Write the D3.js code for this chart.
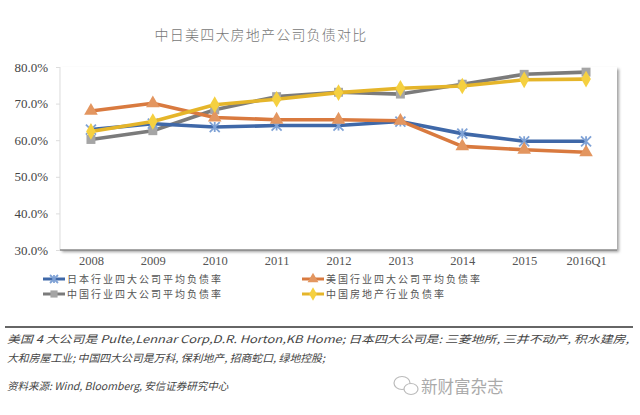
<!DOCTYPE html>
<html>
<head>
<meta charset="utf-8">
<script src="https://cdn.jsdelivr.net/npm/d3@7"></script>
<style>
  body { margin: 0; background: #fff; }
  text { font-family: "Liberation Serif", "DejaVu Serif", serif; }
  .cjk { font-family: "Noto Sans CJK SC", sans-serif; }
</style>
</head>
<body>
<div id="root"></div>
<script>
const w = 640;
const h = 415;

const years = ["2008", "2009", "2010", "2011", "2012", "2013", "2014", "2015", "2016Q1"];
const yTicks = [30, 40, 50, 60, 70, 80];

const seriesNames = [
  "日本行业四大公司平均负债率",
  "美国行业四大公司平均负债率",
  "中国行业四大公司平均负债率",
  "中国房地产行业负债率",
];
const japan = [62.9, 64.5, 63.6, 64.0, 64.0, 65.1, 61.8, 59.7, 59.7];
const usa = [68.0, 70.1, 66.2, 65.6, 65.6, 65.3, 58.3, 57.4, 56.7];
const chinaTop4 = [60.2, 62.6, 68.3, 71.9, 73.1, 72.6, 75.3, 78.0, 78.6];
const chinaIndustry = [62.4, 65.1, 69.7, 71.2, 73.0, 74.2, 74.8, 76.5, 76.7];

const noteLines = [
  "美国 4 大公司是 Pulte,Lennar Corp,D.R. Horton,KB Home; 日本四大公司是: 三菱地所, 三井不动产, 积水建房,",
  "大和房屋工业; 中国四大公司是万科, 保利地产, 招商蛇口, 绿地控股;",
  "资料来源: Wind, Bloomberg, 安信证券研究中心",
];

const plot = { left: 60, right: 617, top: 67, bottom: 250 };

const series = [
  { name: seriesNames[2], values: chinaTop4, color: "#7b7b7b", marker: "#a5a5a5", shape: "square" },
  { name: seriesNames[0], values: japan, color: "#3f68a8", marker: "#7fa2d6", shape: "star" },
  { name: seriesNames[1], values: usa, color: "#d97a3f", marker: "#e39660", shape: "triangle" },
  { name: seriesNames[3], values: chinaIndustry, color: "#e5b52a", marker: "#f5d040", shape: "diamond" },
];

const svg = d3.select("#root").append("svg").attr("width", w).attr("height", h);

svg.append("text")
  .attr("class", "cjk")
  .attr("x", 261)
  .attr("y", 40)
  .attr("text-anchor", "middle")
  .attr("font-size", 14)
  .attr("font-weight", 300)
  .attr("letter-spacing", 1.2)
  .attr("fill", "#777")
  .text("中日美四大房地产公司负债对比");

const xScale = d3.scalePoint().domain(years).range([plot.left, plot.right]).padding(0.5);
const yScale = d3.scaleLinear().domain([30, 80]).range([plot.bottom, plot.top]);

// plot box with shadow
const defs = svg.append("defs");
const filter = defs.append("filter").attr("id", "shadow").attr("x", "-5%").attr("y", "-5%").attr("width", "115%").attr("height", "120%");
filter.append("feDropShadow").attr("dx", 2).attr("dy", 2).attr("stdDeviation", 1.5).attr("flood-color", "#777").attr("flood-opacity", 0.7);

svg.append("rect")
  .attr("x", plot.left)
  .attr("y", plot.top)
  .attr("width", plot.right - plot.left)
  .attr("height", plot.bottom - plot.top)
  .attr("fill", "#fff")
  .attr("filter", "url(#shadow)");

svg.append("line")
  .attr("x1", plot.left).attr("x2", plot.left)
  .attr("y1", plot.top).attr("y2", plot.bottom)
  .attr("stroke", "#ddd");

svg.append("line")
  .attr("x1", plot.left).attr("x2", plot.right)
  .attr("y1", plot.bottom).attr("y2", plot.bottom)
  .attr("stroke", "#8a8a8a")
  .attr("stroke-width", 1.5);

// y axis
const yAxis = svg.append("g")
  .attr("transform", `translate(${plot.left},0)`)
  .call(d3.axisLeft(yScale).tickValues(yTicks).tickSize(4).tickPadding(8).tickFormat((d) => d.toFixed(1) + "%"));
yAxis.select(".domain").remove();
yAxis.selectAll("line").attr("stroke", "#ddd");
yAxis.selectAll("text")
  .attr("font-family", "Liberation Serif, serif")
  .attr("font-size", 13)
  .attr("fill", "#444");

// x axis
const xAxis = svg.append("g")
  .attr("transform", `translate(0,${plot.bottom})`)
  .call(d3.axisBottom(xScale).tickSize(0).tickPadding(6));
xAxis.select(".domain").remove();
xAxis.selectAll("text")
  .attr("font-family", "Liberation Serif, serif")
  .attr("font-size", 12.5)
  .attr("fill", "#555");

const line = d3.line()
  .x((d, i) => xScale(years[i]))
  .y((d) => yScale(d));

function drawMarker(g, shape, color, size) {
  if (shape === "star") {
    const s = size;
    g.append("path")
      .attr("d", `M${-s},${-s}L${s},${s}M${-s},${s}L${s},${-s}M0,${-s}L0,${s}`)
      .attr("stroke", color)
      .attr("stroke-width", 1.8)
      .attr("fill", "none");
  } else {
    const typ = { square: d3.symbolSquare, triangle: d3.symbolTriangle, diamond: d3.symbolDiamond }[shape];
    g.append("path")
      .attr("d", d3.symbol().type(typ).size(size * size * 3.2)())
      .attr("fill", color);
  }
}

series.forEach((s) => {
  const g = svg.append("g");
  g.append("path")
    .datum(s.values)
    .attr("d", line)
    .attr("fill", "none")
    .attr("stroke", s.color)
    .attr("stroke-width", 3.6)
    .attr("stroke-linejoin", "round");
  s.values.forEach((v, i) => {
    const m = g.append("g").attr("transform", `translate(${xScale(years[i])},${yScale(v)})`);
    drawMarker(m, s.shape, s.marker, 5);
  });
});

// legend
const legendItems = [
  { s: series[1], x: 43, y: 279 },
  { s: series[2], x: 302, y: 279 },
  { s: series[0], x: 43, y: 294 },
  { s: series[3], x: 302, y: 294 },
];
legendItems.forEach((it) => {
  const g = svg.append("g").attr("transform", `translate(${it.x},${it.y})`);
  g.append("line")
    .attr("x1", 0).attr("x2", 22)
    .attr("y1", 0).attr("y2", 0)
    .attr("stroke", it.s.color)
    .attr("stroke-width", 3);
  const m = g.append("g").attr("transform", "translate(11,0)");
  drawMarker(m, it.s.shape, it.s.marker, 4);
  g.append("text")
    .attr("class", "cjk")
    .attr("x", 24)
    .attr("y", 3.5)
    .attr("font-size", 10)
    .attr("letter-spacing", 2)
    .attr("fill", "#555")
    .text(it.s.name);
});

// separator
svg.append("line")
  .attr("x1", 5).attr("x2", 633)
  .attr("y1", 327).attr("y2", 327)
  .attr("stroke", "#333")
  .attr("stroke-width", 1.5);

const noteY = [343, 362, 390];
noteLines.forEach((t, i) => {
  const txt = svg.append("text")
    .attr("class", "cjk")
    .attr("x", 7)
    .attr("y", noteY[i])
    .attr("font-size", 10.5)
    .attr("font-style", "italic")
    .attr("fill", "#444")
    .text(t);
  if (i === 0) txt.attr("textLength", 622).attr("lengthAdjust", "spacingAndGlyphs");
  if (i === 1) txt.attr("textLength", 318).attr("lengthAdjust", "spacingAndGlyphs");
});

// watermark
const wm = svg.append("g").attr("transform", "translate(405,386)").attr("fill", "none").attr("stroke", "#bbb").attr("stroke-width", 1.2);
wm.append("ellipse").attr("cx", -3).attr("cy", -3).attr("rx", 8).attr("ry", 6.5);
wm.append("ellipse").attr("cx", 6).attr("cy", 3).attr("rx", 7).attr("ry", 5.5).attr("fill", "#fff");
svg.append("text")
  .attr("class", "cjk")
  .attr("x", 421)
  .attr("y", 393)
  .attr("font-size", 16.5)
  .attr("fill", "#aaa")
  .text("新财富杂志");
</script>
</body>
</html>
